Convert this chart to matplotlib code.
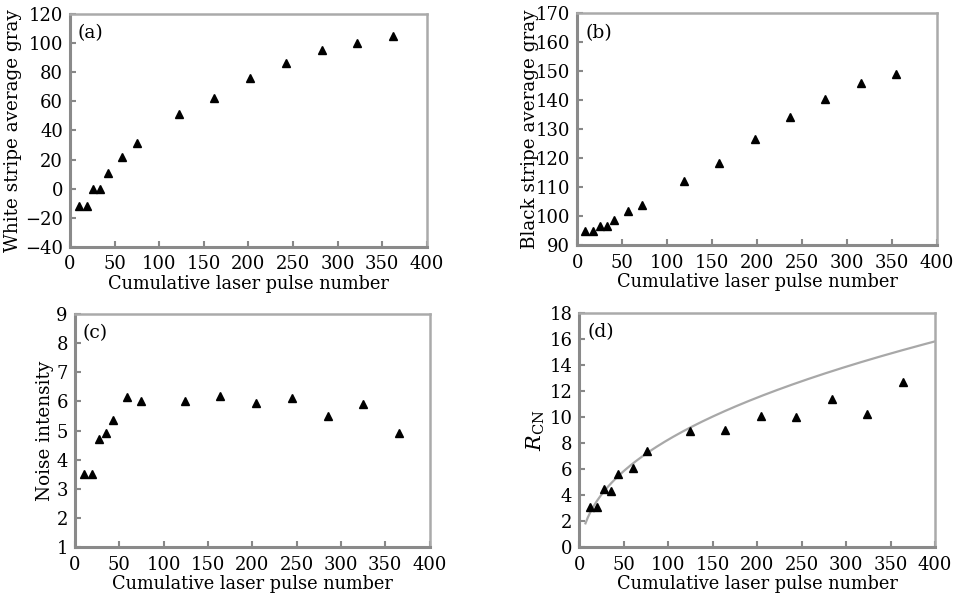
import numpy as np
import matplotlib
matplotlib.use("Agg")
import matplotlib.pyplot as plt

plt.rcParams['font.family'] = ['DejaVu Serif']
plt.rcParams['mathtext.fontset'] = 'dejavuserif'

# Panel (a): white stripe average gray
xa = [10, 19, 26, 34, 43, 58, 75, 122, 162, 202, 242, 282, 322, 362]
ya = [-12, -12, 0, 0, 11, 22, 31, 51, 62, 76, 86, 95, 100, 105]

# Panel (b): black stripe average gray
xb = [9, 17, 25, 33, 41, 56, 72, 119, 158, 198, 237, 276, 316, 355]
yb = [95, 95, 96.7, 96.7, 98.8, 101.7, 103.7, 112.2, 118.4, 126.7, 134.2, 140.4, 146, 148.9]

# Panel (c): noise intensity
xc = [10, 19, 27, 35, 43, 59, 75, 124, 164, 204, 245, 285, 325, 366]
yc = [3.5, 3.5, 4.7, 4.9, 5.35, 6.15, 6.0, 6.0, 6.2, 5.95, 6.1, 5.5, 5.9, 4.9]

# Panel (d): R_CN
xd = [12, 20, 28, 36, 44, 60, 76, 124, 164, 204, 244, 284, 324, 364]
yd = [3.1, 3.1, 4.5, 4.3, 5.6, 6.1, 7.4, 8.9, 9.0, 10.1, 10.0, 11.4, 10.2, 12.7]

# Fit curve parameters for panel (d): y = c + a * x**b
fit_a, fit_b, fit_c = 1.381, 0.42, -1.30
fit_xmin, fit_xmax = 7, 400

fig = plt.figure(figsize=(9.59, 5.98), dpi=100)

panels = [
    dict(rect=[0.073, 0.587, 0.372, 0.390], x=xa, y=ya, ylim=(-40, 120), yticks=np.arange(-40, 121, 20),
         label='(a)', ylabel='White stripe average gray', lpad=2),
    dict(rect=[0.602, 0.590, 0.375, 0.388], x=xb, y=yb, ylim=(90, 170), yticks=np.arange(90, 171, 10),
         label='(b)', ylabel='Black stripe average gray', lpad=-2),
    dict(rect=[0.078, 0.085, 0.370, 0.390], x=xc, y=yc, ylim=(1, 9), yticks=np.arange(1, 10, 1),
         label='(c)', ylabel='Noise intensity', lpad=2),
    dict(rect=[0.604, 0.085, 0.371, 0.392], x=xd, y=yd, ylim=(0, 18), yticks=np.arange(0, 19, 2),
         label='(d)', ylabel=r'$R_{\mathrm{CN}}$', lpad=2),
]

for i, p in enumerate(panels):
    ax = fig.add_axes(p['rect'])
    ax.plot(p['x'], p['y'], linestyle='none', marker='^', color='black', markersize=5.5)
    if i == 3:
        xf = np.linspace(fit_xmin, fit_xmax, 300)
        ax.plot(xf, fit_c + fit_a * xf ** fit_b, color='#a8a8a8', lw=1.6, zorder=1)
    ax.set_xlim(0, 400)
    ax.set_ylim(*p['ylim'])
    ax.set_xticks(np.arange(0, 401, 50))
    ax.set_yticks(p['yticks'])
    ax.set_yticklabels([str(v).replace('-', '\u2212') for v in p['yticks']])
    ax.tick_params(direction='in', length=4, width=1.5, color='#888888', labelsize=13)
    ax.tick_params(axis='x', pad=6)
    ax.tick_params(axis='y', pad=5)
    for s in ['left', 'bottom']:
        ax.spines[s].set_color('#8a8a8a')
        ax.spines[s].set_linewidth(2.2)
    for s in ['top', 'right']:
        ax.spines[s].set_color('#aaaaaa')
        ax.spines[s].set_linewidth(1.8)
    ax.text(0.022, 0.955, p['label'], transform=ax.transAxes, fontsize=13.5, va='top', ha='left')
    ax.set_xlabel('Cumulative laser pulse number', fontsize=12.8, labelpad=1)
    if i == 3:
        ax.set_ylabel(p['ylabel'], fontsize=15, labelpad=p['lpad'])
    else:
        ax.set_ylabel(p['ylabel'], fontsize=13.2, labelpad=p['lpad'])

fig.savefig('out.png', dpi=100)
